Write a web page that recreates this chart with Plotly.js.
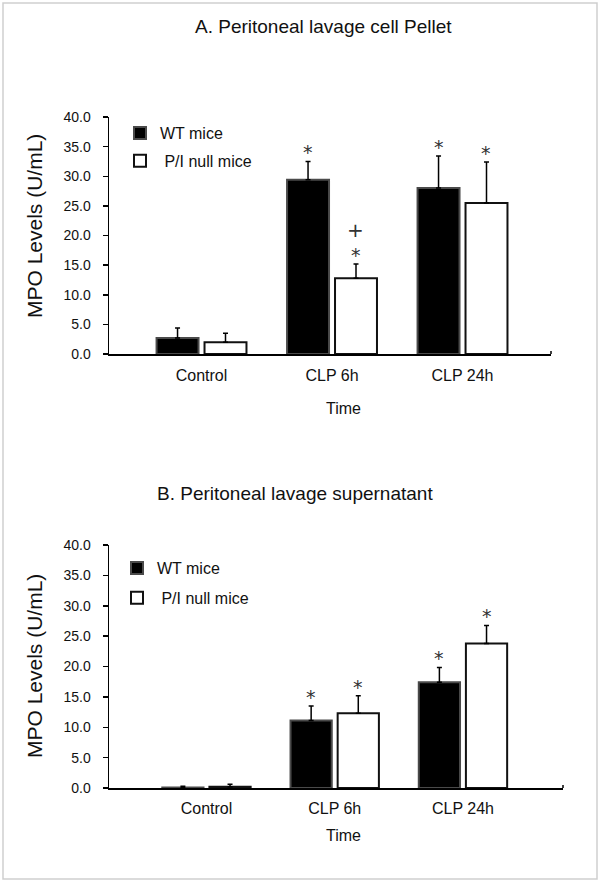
<!DOCTYPE html>
<html>
<head>
<meta charset="utf-8">
<script src="https://cdn.plot.ly/plotly-3.0.1.min.js"></script>
<style>html,body{margin:0;padding:0;background:#fff;}#chart{width:600px;height:883px;}</style>
</head>
<body>
<div id="chart"></div>
<script>
// ---- data ----
var categories = ['Control', 'CLP 6h', 'CLP 24h'];
var seriesNames = ['WT mice', ' P/I null mice'];

// Panel A: Peritoneal lavage cell pellet
var A_wt      = [2.7, 29.4, 28.0];
var A_wt_err  = [1.7, 3.1, 5.4];
var A_null    = [2.0, 12.8, 25.5];
var A_null_err= [1.5, 2.4, 6.9];
var A_wt_sig  = ['', '*', '*'];
var A_null_sig= ['', '*', '*'];
var A_null_sig2 = ['', '+', ''];

// Panel B: Peritoneal lavage supernatant
var B_wt      = [0.1, 11.1, 17.4];
var B_wt_err  = [0.2, 2.4, 2.45];
var B_null    = [0.2, 12.3, 23.8];
var B_null_err= [0.4, 2.9, 2.95];
var B_wt_sig  = ['', '*', '*'];
var B_null_sig= ['', '*', '*'];

var yTicks = [0, 5, 10, 15, 20, 25, 30, 35, 40];
var yTickText = ['0.0', '5.0', '10.0', '15.0', '20.0', '25.0', '30.0', '35.0', '40.0'];

// ---- style ----
var FONT = 'Liberation Sans, Arial, sans-serif';
var TXT = '#111';
var W = 600, H = 883;
var bargap = 0.265, bargroupgap = 0.125;

var xDomA = [109 / W, 551 / W], yDomA = [1 - 354 / H, 1 - 117 / H];
var xDomB = [109 / W, 563 / W], yDomB = [1 - 788 / H, 1 - 545 / H];
var xRangeA = [-0.709, 2.678], xRangeB = [-0.76, 2.78];

function errObj(arr) {
  return {type: 'data', symmetric: false, array: arr, arrayminus: arr.map(function(){return 0;}),
          color: '#000', thickness: 1.5, width: 2.5};
}
function wtTrace(y, err, xa, ya, lg, show) {
  return {type: 'bar', name: seriesNames[0], x: categories, y: y, xaxis: xa, yaxis: ya,
    legend: lg, legendgroup: lg + 'wt', showlegend: show,
    marker: {color: '#000', line: {color: '#4a4a4a', width: 2}},
    error_y: errObj(err), hoverinfo: 'skip'};
}
function nullTrace(y, err, xa, ya, lg, show) {
  return {type: 'bar', name: seriesNames[1], x: categories, y: y, xaxis: xa, yaxis: ya,
    legend: lg, legendgroup: lg + 'null', showlegend: show,
    marker: {color: '#fff', line: {color: '#111', width: 2}},
    error_y: errObj(err), hoverinfo: 'skip'};
}

var data = [
  wtTrace(A_wt, A_wt_err, 'x', 'y', 'legend', true),
  nullTrace(A_null, A_null_err, 'x', 'y', 'legend', true),
  wtTrace(B_wt, B_wt_err, 'x2', 'y2', 'legend2', true),
  nullTrace(B_null, B_null_err, 'x2', 'y2', 'legend2', true)
];

// significance markers positioned from data (value + error) and bar slot geometry
var annotations = [];
function slotShift(xDom, xRange) {
  var pxPerUnit = (xDom[1] - xDom[0]) * W / (xRange[1] - xRange[0]);
  return (1 - bargap) / 4 * pxPerUnit;
}
function addSig(labels, vals, errs, xa, ya, side, xDom, xRange, extra, size) {
  var sh = slotShift(xDom, xRange) * side;
  for (var i = 0; i < categories.length; i++) {
    if (!labels[i]) continue;
    annotations.push({xref: xa, yref: ya, x: categories[i], y: vals[i] + errs[i],
      xshift: sh, yshift: extra, yanchor: 'bottom', showarrow: false, text: labels[i],
      font: {family: 'DejaVu Sans, Liberation Sans, sans-serif', size: size, color: '#333'}});
  }
}
addSig(A_wt_sig, A_wt, A_wt_err, 'x', 'y', -1, xDomA, xRangeA, -4, 19);
addSig(A_null_sig, A_null, A_null_err, 'x', 'y', 1, xDomA, xRangeA, -4, 19);
addSig(A_null_sig2, A_null, A_null_err, 'x', 'y', 1, xDomA, xRangeA, 20, 20);
addSig(B_wt_sig, B_wt, B_wt_err, 'x2', 'y2', -1, xDomB, xRangeB, -4, 19);
addSig(B_null_sig, B_null, B_null_err, 'x2', 'y2', 1, xDomB, xRangeB, -4, 19);

// titles
function txt(text, x, y, size, angle) {
  annotations.push({xref: 'paper', yref: 'paper', x: x / W, y: 1 - y / H, xanchor: 'center', yanchor: 'middle',
    showarrow: false, text: text, textangle: angle || 0, font: {family: FONT, size: size, color: TXT}});
}
txt('A. Peritoneal lavage cell Pellet', 323, 27, 19);
txt('B. Peritoneal lavage supernatant', 295, 493, 19);
txt('MPO Levels (U/mL)', 34, 226, 21, -90);
txt('MPO Levels (U/mL)', 34, 666, 21, -90);
txt('Time', 343, 408, 16);
txt('Time', 343, 835, 16);

function yAx(dom, anchor) {
  return {domain: dom, anchor: anchor, range: [0, 40], tickvals: yTicks, ticktext: yTickText,
    ticks: 'outside', ticklen: 5, tickwidth: 1.5, tickcolor: '#000', showline: true, linecolor: '#000',
    linewidth: 1.5, showgrid: false, zeroline: false, automargin: false, ticklabelstandoff: 9,
    tickfont: {family: FONT, size: 14, color: TXT}, fixedrange: true};
}
function xAx(dom, rng, anchor, standoff) {
  return {domain: dom, anchor: anchor, type: 'category', range: rng, showline: true, linecolor: '#000',
    linewidth: 1.5, ticks: '', showgrid: false, zeroline: false, automargin: false, ticklabelstandoff: standoff,
    tickfont: {family: FONT, size: 16, color: TXT}, fixedrange: true};
}

var shapes = [
  {type: 'rect', xref: 'paper', yref: 'paper', x0: 3 / W, x1: 597 / W, y0: 1 - 879 / H, y1: 1 - 3 / H,
   line: {color: '#cfcfcf', width: 1.5}},
  {type: 'line', xref: 'x domain', yref: 'y', x0: 1, x1: 1, ysizemode: 'pixel', yanchor: 0, y0: -4, y1: 3,
   line: {color: '#000', width: 1.5}},
  {type: 'line', xref: 'x2 domain', yref: 'y2', x0: 1, x1: 1, ysizemode: 'pixel', yanchor: 0, y0: -4, y1: 3,
   line: {color: '#000', width: 1.5}}
];

var layout = {
  width: W, height: H, margin: {l: 0, r: 0, t: 0, b: 0},
  paper_bgcolor: '#fff', plot_bgcolor: 'rgba(0,0,0,0)',
  font: {family: FONT, color: TXT},
  barmode: 'group', bargap: bargap, bargroupgap: bargroupgap,
  xaxis: xAx(xDomA, xRangeA, 'y', 6),
  yaxis: yAx(yDomA, 'x'),
  xaxis2: xAx(xDomB, xRangeB, 'y2', 5),
  yaxis2: yAx(yDomB, 'x2'),
  legend: {x: 120 / W, y: 1 - 116 / H, xanchor: 'left', yanchor: 'top', bgcolor: 'rgba(0,0,0,0)',
    font: {family: FONT, size: 16, color: TXT}, traceorder: 'grouped', tracegroupgap: 4},
  legend2: {x: 117 / W, y: 1 - 551 / H, xanchor: 'left', yanchor: 'top', bgcolor: 'rgba(0,0,0,0)',
    font: {family: FONT, size: 16, color: TXT}, traceorder: 'grouped', tracegroupgap: 6},
  annotations: annotations,
  shapes: shapes,
  showlegend: true
};

Plotly.newPlot('chart', data, layout, {displayModeBar: false, staticPlot: true});
</script>
</body>
</html>
